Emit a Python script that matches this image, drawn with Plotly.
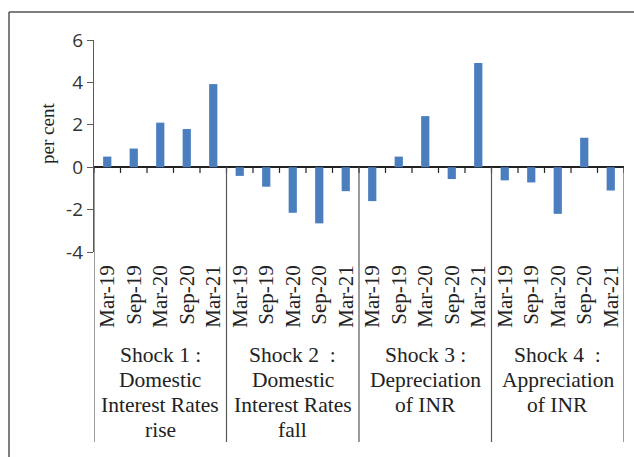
import plotly.graph_objects as go

# --- data ---
periods = ["Mar-19", "Sep-19", "Mar-20", "Sep-20", "Mar-21"]
shock_lines = [
    ["Shock 1 :", "Domestic", "Interest Rates", "rise"],
    ["Shock 2  :", "Domestic", "Interest Rates", "fall"],
    ["Shock 3 :", "Depreciation", "of INR"],
    ["Shock 4  :", "Appreciation", "of INR"],
]
shock1 = [0.5, 0.88, 2.1, 1.8, 3.92]
shock2 = [-0.41, -0.92, -2.15, -2.65, -1.13]
shock3 = [-1.6, 0.5, 2.41, -0.56, 4.92]
shock4 = [-0.62, -0.72, -2.2, 1.39, -1.1]
y_ticks = [-4, -2, 0, 2, 4, 6]
y_ticktext = ["-4", "-2", "0", "2", "4", "6"]

series = [shock1, shock2, shock3, shock4]
values = [v for s in series for v in s]
labels = periods * len(series)
xs = list(range(len(values)))

BAR = "#4a7ebf"
AX = "#595959"
SERIF = "Liberation Serif"
SANS = "Open Sans"

H_PLOT = 457 - 40 - 205  # plot height in px, for paper offsets

fig = go.Figure()
fig.add_trace(go.Bar(x=xs, y=values, marker=dict(color=BAR, line=dict(width=0)),
                     showlegend=False, hoverinfo="skip"))

shapes = []
# small tick marks on the zero line between categories
for i in range(len(values) + 1):
    shapes.append(dict(type="line", xref="x", yref="y", x0=i - 0.5, x1=i - 0.5,
                       y0=0, y1=-0.27, line=dict(color="#222", width=1.2)))
# group separators running down through the label area
n = len(periods)
for g in range(len(series) + 1):
    shapes.append(dict(type="line", xref="x", yref="paper", x0=g * n - 0.5, x1=g * n - 0.5,
                       y0=0.4, y1=-(442 - 252) / H_PLOT, line=dict(color=AX, width=1.2)))
# outer frame (top and left)
shapes.append(dict(type="line", xref="paper", yref="paper", x0=(9 - 94) / 530, x1=1.05,
                   y0=1 + (40 - 12) / H_PLOT, y1=1 + (40 - 12) / H_PLOT,
                   line=dict(color="#555", width=1.5)))
shapes.append(dict(type="line", xref="paper", yref="paper", x0=(9 - 94) / 530, x1=(9 - 94) / 530,
                   y0=1 + (40 - 12) / H_PLOT, y1=-1.1, line=dict(color="#555", width=1.5)))

annotations = []
for g, lines in enumerate(shock_lines):
    for k, line in enumerate(lines):
        y_px = 355 + 25 * k
        annotations.append(dict(x=g * n + (n - 1) / 2, xref="x", y=-(y_px - 252) / H_PLOT,
                                yref="paper", yanchor="middle", xanchor="center", text=line,
                                showarrow=False, font=dict(family=SERIF, size=21.5, color="#222")))
annotations.append(dict(x=(47 - 94) / 530, xref="paper", y=1 - (134 - 40) / H_PLOT, yref="paper",
                        text="per cent", textangle=-90, showarrow=False,
                        xanchor="center", yanchor="middle",
                        font=dict(family=SERIF, size=19, color="#222")))

fig.update_layout(
    width=634, height=457,
    margin=dict(l=94, r=10, t=40, b=205),
    paper_bgcolor="white", plot_bgcolor="white",
    bargap=0.69,
    shapes=shapes, annotations=annotations,
    xaxis=dict(range=[-0.5, len(values) - 0.5], tickmode="array", tickvals=xs, ticktext=labels,
               tickangle=-90, showgrid=False, zeroline=False, showline=False, ticks="",
               automargin=False, ticklabelstandoff=8,
               tickfont=dict(family=SERIF, size=21, color="#222"), fixedrange=True),
    yaxis=dict(range=[-4, 6], tickvals=y_ticks, ticktext=y_ticktext, showgrid=False,
               zeroline=True, zerolinecolor="#222", zerolinewidth=1.5, showline=True,
               linecolor=AX, linewidth=1.2, ticks="outside", ticklen=6, tickcolor=AX,
               automargin=False,
               tickfont=dict(family=SANS, size=19, color="#333")),
)

# page body has a default 8px margin; drop it so the figure sits at the window corner
fig.write_html("out.html", config={"displayModeBar": False},
               post_script="document.body.style.margin='0';")
